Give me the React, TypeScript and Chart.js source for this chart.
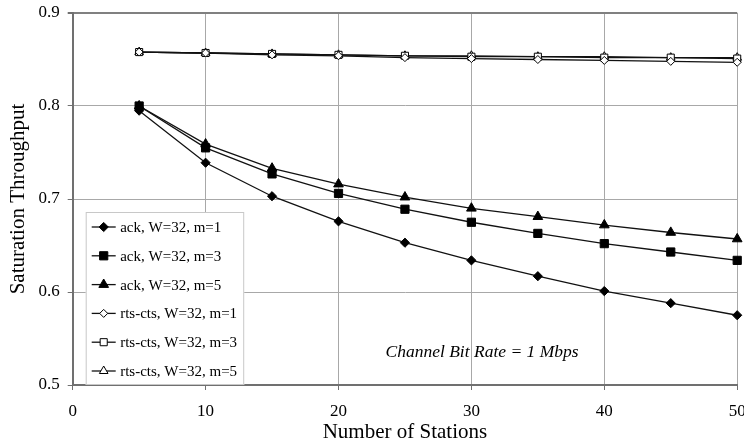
import React, { useEffect, useRef } from "react";
import { Chart, registerables } from "chart.js";
import { drawPoint } from "chart.js/helpers";

Chart.register(...registerables);

const stations = [5, 10, 15, 20, 25, 30, 35, 40, 45, 50];
const ackM1 = [0.795, 0.739, 0.703, 0.676, 0.653, 0.634, 0.617, 0.601, 0.588, 0.575];
const ackM3 = [0.8, 0.755, 0.727, 0.706, 0.689, 0.675, 0.663, 0.652, 0.643, 0.634];
const ackM5 = [0.8, 0.759, 0.733, 0.716, 0.702, 0.69, 0.681, 0.672, 0.664, 0.657];
const rtsM1 = [0.858, 0.857, 0.855, 0.854, 0.852, 0.851, 0.85, 0.849, 0.848, 0.847];
const rtsM3 = [0.858, 0.857, 0.856, 0.855, 0.854, 0.853, 0.853, 0.852, 0.852, 0.851];
const rtsM5 = [0.858, 0.857, 0.856, 0.855, 0.854, 0.854, 0.853, 0.853, 0.852, 0.852];

const seriesLabels = [
  "ack, W=32, m=1",
  "ack, W=32, m=3",
  "ack, W=32, m=5",
  "rts-cts, W=32, m=1",
  "rts-cts, W=32, m=3",
  "rts-cts, W=32, m=5",
];
const seriesValues = [ackM1, ackM3, ackM5, rtsM1, rtsM3, rtsM5];

const xTitle = "Number of Stations";
const yTitle = "Saturation Throughput";
const annotationText = "Channel Bit Rate = 1 Mbps";
const xMin = 0, xMax = 50, xStep = 10;
const yMin = 0.5, yMax = 0.9, yStep = 0.1;

const FONT = '"Liberation Serif", "Times New Roman", serif';

const markerStyles = [
  { pointStyle: "rectRot", radius: 4.6, fill: "#000" },
  { pointStyle: "rect", radius: 5.8, fill: "#000" },
  { pointStyle: "triangle", radius: 5.6, fill: "#000" },
  { pointStyle: "rectRot", radius: 4.0, fill: "#fff" },
  { pointStyle: "rect", radius: 5.0, fill: "#fff" },
  { pointStyle: "triangle", radius: 5.0, fill: "#fff" },
];

const legendPlugin = {
  id: "insideLegend",
  afterDatasetsDraw(chart: any) {
    const { ctx, chartArea } = chart;
    const x0 = chartArea.left + 13;
    const x1 = chartArea.left + 171.5;
    const y0 = chartArea.top + 199;
    const y1 = chartArea.bottom;
    ctx.save();
    ctx.fillStyle = "#fff";
    ctx.fillRect(x0, y0, x1 - x0, y1 - y0);
    ctx.strokeStyle = "#c8c8c8";
    ctx.lineWidth = 1;
    ctx.strokeRect(x0 + 0.5, y0 + 0.5, x1 - x0 - 1, y1 - y0 - 1);
    ctx.font = `15px ${FONT}`;
    ctx.textBaseline = "middle";
    ctx.textAlign = "left";
    seriesLabels.forEach((label, i) => {
      const y = y0 + 15 + i * 28.8;
      const lx = x0 + 6;
      ctx.strokeStyle = "#111";
      ctx.lineWidth = 1.3;
      ctx.beginPath();
      ctx.moveTo(lx, y);
      ctx.lineTo(lx + 24, y);
      ctx.stroke();
      const m = markerStyles[i];
      ctx.fillStyle = m.fill;
      ctx.strokeStyle = "#000";
      ctx.lineWidth = 1;
      drawPoint(ctx, { pointStyle: m.pointStyle, radius: m.radius, rotation: 0, borderWidth: 1 } as any, lx + 12, y);
      ctx.fillStyle = "#000";
      ctx.fillText(label, x0 + 34.5, y + 1);
    });
    ctx.restore();
  },
};

const annotationPlugin = {
  id: "bitRateNote",
  afterDatasetsDraw(chart: any) {
    const { ctx, scales } = chart;
    const x = scales.x.getPixelForValue(30.8);
    const y = scales.y.getPixelForValue(0.5355);
    ctx.save();
    ctx.font = `italic 17.5px ${FONT}`;
    ctx.fillStyle = "#000";
    ctx.textAlign = "center";
    ctx.textBaseline = "middle";
    ctx.fillText(annotationText, x, y);
    ctx.restore();
  },
};

export default function App() {
  const ref = useRef<HTMLCanvasElement | null>(null);
  useEffect(() => {
    document.body.style.margin = "0";
    const canvas = ref.current;
    if (!canvas) return;
    const datasets = seriesValues.map((vals, i) => ({
      label: seriesLabels[i],
      data: stations.map((s, j) => ({ x: s, y: vals[j] })),
      borderColor: "#111",
      borderWidth: 1.3,
      backgroundColor: markerStyles[i].fill,
      pointBackgroundColor: markerStyles[i].fill,
      pointBorderColor: "#000",
      pointBorderWidth: 1,
      pointStyle: markerStyles[i].pointStyle,
      pointRadius: markerStyles[i].radius,
      tension: 0,
      fill: false,
      clip: false,
    }));
    const chart = new Chart(canvas, {
      type: "line",
      data: { datasets },
      plugins: [legendPlugin, annotationPlugin],
      options: {
        responsive: false,
        animation: false,
        devicePixelRatio: 1,
        layout: { padding: { top: 13, right: 6.5, left: 0, bottom: 0 } },
        plugins: { legend: { display: false }, tooltip: { enabled: false } },
        scales: {
          x: {
            type: "linear",
            min: xMin,
            max: xMax,
            afterFit: (s: any) => { s.height = 60; s.paddingLeft = 0; s.paddingRight = 0; },
            ticks: { stepSize: xStep, color: "#000", font: { family: FONT, size: 17 }, padding: 11, maxRotation: 0 },
            grid: { color: "#a8a8a8", lineWidth: 1, tickLength: 5, tickColor: "#707070" },
            border: { color: "#707070", width: 2 },
            title: { display: true, text: xTitle, color: "#000", font: { family: FONT, size: 21 }, padding: { top: 0, bottom: 0.4 } },
          },
          y: {
            type: "linear",
            min: yMin,
            max: yMax,
            afterFit: (s: any) => { s.width = 72.7; s.paddingTop = 0; s.paddingBottom = 0; },
            ticks: { stepSize: yStep, color: "#000", font: { family: FONT, size: 17 }, padding: 8, callback: (v: any) => Number(v).toFixed(1) },
            grid: {
              color: (c: any) => (c.tick && Math.abs(c.tick.value - yMax) < 1e-9 ? "#808080" : "#a8a8a8"),
              lineWidth: (c: any) => (c.tick && Math.abs(c.tick.value - yMax) < 1e-9 ? 2 : 1),
              tickLength: 5,
              tickColor: "#707070",
            },
            border: { color: "#707070", width: 2 },
            title: { display: true, text: yTitle, color: "#000", font: { family: FONT, size: 21 }, padding: { top: 5.9, bottom: 0 } },
          },
        },
      } as any,
    });
    return () => chart.destroy();
  }, []);
  return (
    <div style={{ width: 744, height: 445 }}>
      <canvas ref={ref} width={744} height={445} style={{ display: "block" }} />
    </div>
  );
}
